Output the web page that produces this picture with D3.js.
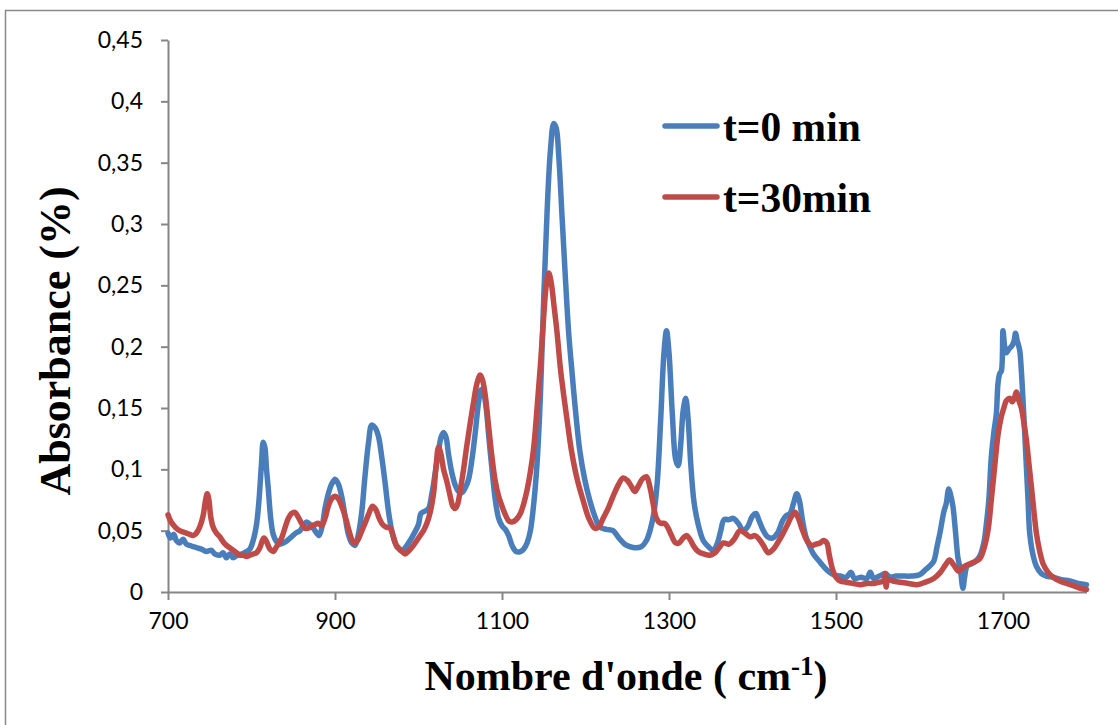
<!DOCTYPE html>
<html>
<head>
<meta charset="utf-8">
<script src="https://cdn.jsdelivr.net/npm/d3@7"></script>
<style>
    body { margin: 0; background: #fff; }
    svg { display: block; }
    .tick-text { font-family: Lato, 'Open Sans', sans-serif; font-size: 23px; fill: #000; }
    .axis-title { font-family: 'Liberation Serif', 'Times New Roman', serif; font-weight: bold; fill: #000; }
</style>
</head>
<body>
<div id="chart"></div>
<script>
// Spectra: [wave number (cm-1), absorbance]
const spectrumT0 = [
    [700, 0.048], [703, 0.044], [707, 0.047], [710, 0.042], [714, 0.040], [718, 0.043], [722, 0.039],
    [726, 0.038], [730, 0.037], [735, 0.036], [740, 0.035], [746, 0.033], [752, 0.034], [756, 0.031],
    [762, 0.030], [766, 0.032], [770, 0.028], [774, 0.031], [778, 0.028], [783, 0.030], [788, 0.031],
    [794, 0.033], [798, 0.035], [802, 0.042], [806, 0.055], [809, 0.075], [812, 0.105], [814, 0.122],
    [816, 0.118], [818, 0.100], [820, 0.085], [823, 0.060], [826, 0.047], [830, 0.041], [834, 0.039],
    [838, 0.040], [843, 0.042], [848, 0.045], [853, 0.048], [858, 0.050], [862, 0.054], [866, 0.057],
    [870, 0.055], [874, 0.052], [878, 0.048], [881, 0.046], [885, 0.055], [888, 0.068], [892, 0.080],
    [896, 0.088], [900, 0.092], [904, 0.088], [908, 0.078], [912, 0.062], [916, 0.047], [920, 0.040],
    [924, 0.038], [928, 0.047], [932, 0.065], [936, 0.095], [940, 0.121], [944, 0.136], [948, 0.134],
    [952, 0.127], [956, 0.110], [960, 0.089], [964, 0.066], [968, 0.050], [972, 0.040], [976, 0.036],
    [980, 0.033], [985, 0.037], [990, 0.042], [995, 0.048], [1000, 0.055], [1003, 0.064], [1008, 0.066],
    [1012, 0.068], [1016, 0.080], [1020, 0.097], [1024, 0.115], [1027, 0.126], [1030, 0.130], [1033, 0.126],
    [1036, 0.112], [1040, 0.097], [1044, 0.087], [1048, 0.082], [1052, 0.081], [1056, 0.085], [1060, 0.092],
    [1064, 0.108], [1068, 0.130], [1072, 0.155], [1075, 0.165], [1078, 0.162], [1081, 0.150], [1084, 0.128],
    [1088, 0.100], [1092, 0.075], [1096, 0.060], [1100, 0.054], [1104, 0.051], [1108, 0.046], [1112, 0.038],
    [1117, 0.033], [1122, 0.033], [1126, 0.035], [1130, 0.040], [1134, 0.050], [1138, 0.072], [1142, 0.105],
    [1146, 0.160], [1150, 0.240], [1154, 0.310], [1158, 0.360], [1162, 0.382], [1165, 0.378], [1168, 0.355],
    [1172, 0.305], [1176, 0.255], [1180, 0.210], [1184, 0.178], [1188, 0.148], [1193, 0.116], [1199, 0.092],
    [1205, 0.075], [1211, 0.062], [1217, 0.053], [1225, 0.051], [1233, 0.050], [1240, 0.044], [1247, 0.039],
    [1253, 0.037], [1260, 0.036], [1267, 0.037], [1273, 0.042], [1278, 0.052], [1282, 0.065], [1286, 0.090],
    [1290, 0.140], [1294, 0.195], [1297, 0.213], [1300, 0.195], [1304, 0.145], [1308, 0.108], [1311, 0.103],
    [1314, 0.120], [1317, 0.148], [1320, 0.158], [1323, 0.140], [1326, 0.105], [1330, 0.073], [1335, 0.055],
    [1341, 0.042], [1347, 0.037], [1353, 0.034], [1358, 0.040], [1362, 0.050], [1366, 0.059], [1372, 0.059],
    [1377, 0.060], [1383, 0.056], [1389, 0.050], [1394, 0.053], [1400, 0.062], [1404, 0.064], [1408, 0.058],
    [1413, 0.050], [1418, 0.045], [1424, 0.044], [1430, 0.048], [1436, 0.058], [1440, 0.062], [1445, 0.064],
    [1449, 0.072], [1453, 0.080], [1456, 0.075], [1460, 0.058], [1464, 0.045], [1468, 0.038], [1473, 0.031],
    [1480, 0.025], [1489, 0.018], [1497, 0.014], [1505, 0.013], [1512, 0.012], [1518, 0.016], [1522, 0.011],
    [1530, 0.012], [1537, 0.011], [1541, 0.016], [1545, 0.011], [1552, 0.013], [1559, 0.015], [1565, 0.012],
    [1572, 0.013], [1580, 0.013], [1590, 0.013], [1600, 0.014], [1607, 0.018], [1612, 0.021], [1617, 0.025],
    [1621, 0.037], [1625, 0.050], [1629, 0.065], [1632, 0.072], [1635, 0.084], [1637, 0.080], [1640, 0.070],
    [1643, 0.050], [1646, 0.028], [1649, 0.018], [1652, 0.003], [1654, 0.012], [1657, 0.021], [1662, 0.023],
    [1667, 0.025], [1672, 0.029], [1677, 0.040], [1680, 0.055], [1683, 0.075], [1686, 0.110], [1689, 0.130],
    [1692, 0.145], [1694, 0.170], [1696, 0.178], [1698, 0.180], [1700, 0.213], [1702, 0.200], [1704, 0.195],
    [1707, 0.198], [1710, 0.200], [1713, 0.204], [1715, 0.211], [1717, 0.205], [1720, 0.197], [1722, 0.180],
    [1724, 0.156], [1726, 0.130], [1728, 0.102], [1730, 0.075], [1732, 0.048], [1736, 0.030], [1740, 0.021],
    [1746, 0.015], [1752, 0.013], [1760, 0.012], [1770, 0.010], [1780, 0.009], [1790, 0.007], [1800, 0.006]
]

const spectrumT30 = [
    [700, 0.063], [703, 0.058], [706, 0.055], [710, 0.052], [714, 0.050], [718, 0.049], [722, 0.048],
    [726, 0.047], [730, 0.046], [734, 0.048], [738, 0.053], [742, 0.062], [745, 0.075], [747, 0.080],
    [749, 0.075], [751, 0.062], [754, 0.053], [758, 0.048], [762, 0.045], [766, 0.041], [770, 0.038],
    [774, 0.036], [778, 0.034], [782, 0.032], [786, 0.030], [790, 0.030], [794, 0.029], [798, 0.030],
    [802, 0.031], [806, 0.032], [810, 0.036], [813, 0.042], [815, 0.044], [818, 0.041], [822, 0.035],
    [826, 0.033], [830, 0.037], [836, 0.044], [840, 0.052], [844, 0.060], [848, 0.064], [852, 0.065],
    [856, 0.061], [860, 0.056], [864, 0.052], [868, 0.052], [872, 0.054], [876, 0.055], [880, 0.056],
    [884, 0.054], [888, 0.060], [892, 0.070], [896, 0.076], [900, 0.078], [904, 0.076], [908, 0.070],
    [912, 0.062], [916, 0.052], [920, 0.043], [923, 0.040], [927, 0.042], [931, 0.048], [936, 0.056],
    [940, 0.063], [945, 0.070], [949, 0.067], [953, 0.060], [957, 0.055], [961, 0.053], [966, 0.052],
    [970, 0.045], [974, 0.037], [979, 0.034], [984, 0.031], [989, 0.034], [994, 0.038], [998, 0.042],
    [1002, 0.046], [1006, 0.050], [1010, 0.056], [1014, 0.065], [1018, 0.080], [1021, 0.102], [1024, 0.118],
    [1027, 0.112], [1030, 0.100], [1034, 0.090], [1038, 0.078], [1041, 0.070], [1044, 0.068], [1047, 0.072],
    [1050, 0.083], [1054, 0.100], [1058, 0.120], [1062, 0.138], [1066, 0.155], [1070, 0.170], [1074, 0.177],
    [1077, 0.172], [1080, 0.160], [1084, 0.135], [1088, 0.110], [1092, 0.090], [1096, 0.078], [1100, 0.070],
    [1104, 0.063], [1108, 0.058], [1112, 0.057], [1117, 0.059], [1122, 0.064], [1126, 0.072], [1130, 0.083],
    [1134, 0.098], [1138, 0.118], [1142, 0.150], [1146, 0.185], [1150, 0.225], [1153, 0.250], [1156, 0.260],
    [1159, 0.252], [1162, 0.235], [1166, 0.211], [1170, 0.182], [1174, 0.160], [1178, 0.140], [1183, 0.116],
    [1190, 0.092], [1197, 0.075], [1204, 0.060], [1211, 0.052], [1216, 0.053], [1221, 0.060], [1227, 0.068],
    [1233, 0.078], [1239, 0.087], [1245, 0.093], [1250, 0.091], [1255, 0.086], [1259, 0.082], [1263, 0.086],
    [1268, 0.092], [1273, 0.094], [1277, 0.086], [1281, 0.072], [1285, 0.060], [1290, 0.056], [1295, 0.056],
    [1299, 0.052], [1303, 0.046], [1308, 0.040], [1312, 0.040], [1317, 0.044], [1321, 0.046], [1325, 0.043],
    [1330, 0.037], [1335, 0.033], [1342, 0.031], [1349, 0.030], [1355, 0.032], [1360, 0.036], [1365, 0.040],
    [1372, 0.039], [1378, 0.043], [1385, 0.050], [1391, 0.048], [1397, 0.045], [1403, 0.046], [1408, 0.043],
    [1413, 0.038], [1419, 0.032], [1425, 0.035], [1430, 0.040], [1436, 0.047], [1442, 0.055], [1447, 0.062],
    [1451, 0.065], [1455, 0.060], [1459, 0.052], [1463, 0.045], [1467, 0.040], [1471, 0.038], [1476, 0.039],
    [1481, 0.040], [1485, 0.042], [1489, 0.040], [1492, 0.030], [1496, 0.018], [1500, 0.012], [1505, 0.009],
    [1512, 0.008], [1520, 0.007], [1529, 0.006], [1537, 0.007], [1545, 0.007], [1552, 0.008], [1557, 0.009],
    [1559, 0.015], [1560, 0.004], [1562, 0.010], [1568, 0.009], [1577, 0.008], [1587, 0.007], [1597, 0.006],
    [1607, 0.008], [1617, 0.011], [1625, 0.016], [1631, 0.022], [1636, 0.026], [1641, 0.022], [1647, 0.017],
    [1652, 0.020], [1657, 0.022], [1664, 0.024], [1672, 0.027], [1677, 0.035], [1682, 0.050], [1686, 0.075],
    [1690, 0.102], [1694, 0.128], [1698, 0.143], [1701, 0.150], [1704, 0.156], [1708, 0.158], [1711, 0.155],
    [1714, 0.159], [1716, 0.163], [1719, 0.156], [1722, 0.150], [1725, 0.138], [1728, 0.124], [1731, 0.105],
    [1734, 0.086], [1737, 0.066], [1740, 0.048], [1744, 0.033], [1748, 0.023], [1754, 0.016], [1760, 0.012],
    [1768, 0.009], [1776, 0.007], [1785, 0.005], [1793, 0.003], [1800, 0.002]
]

const seriesNames = ['t=0 min', 't=30min']
const xTicks = [700, 900, 1100, 1300, 1500, 1700]
const yTicks = [0, 0.05, 0.1, 0.15, 0.2, 0.25, 0.3, 0.35, 0.4, 0.45]

const colours = ['#4a7ebb', '#be4b48']
const width = 1118
const height = 725

const svg = d3.select('#chart')
    .append('svg')
    .attr('width', width)
    .attr('height', height)

// Outer chart frame, runs off the right and bottom of the picture
svg.append('rect')
    .attr('x', 5.5)
    .attr('y', 10.5)
    .attr('width', 1130)
    .attr('height', 730)
    .attr('fill', 'none')
    .attr('stroke', '#888')
    .attr('stroke-width', 1.5)

const x = d3.scaleLinear().domain([700, 1800]).range([168, 1086.5])
const y = d3.scaleLinear().domain([0, 0.45]).range([592, 40])

const commaFormat = d => String(d).replace('.', ',')

// Axes
const xAxis = svg.append('g')
    .attr('transform', `translate(0,${y(0)})`)
    .call(d3.axisBottom(x).tickValues(xTicks).tickFormat(d => String(d)).tickSize(8).tickPadding(13).tickSizeOuter(0))
const yAxis = svg.append('g')
    .attr('transform', `translate(${x(700)},0)`)
    .call(d3.axisLeft(y).tickValues(yTicks).tickFormat(commaFormat).tickSize(7).tickPadding(18).tickSizeOuter(0))

;[xAxis, yAxis].forEach(a => {
    a.select('.domain').attr('stroke', '#868686').attr('stroke-width', 2)
    a.selectAll('.tick line').attr('stroke', '#868686').attr('stroke-width', 2)
    a.selectAll('.tick text').attr('class', 'tick-text').attr('font-family', null).attr('font-size', null)
})

// Spectra
const line = d3.line()
    .x(d => x(d[0]))
    .y(d => y(d[1]))
    .curve(d3.curveCatmullRom.alpha(0.5))

const plotArea = svg.append('g')
plotArea.selectAll('path')
    .data([spectrumT0, spectrumT30])
    .enter()
    .append('path')
    .attr('d', line)
    .attr('fill', 'none')
    .attr('stroke', (d, i) => colours[i])
    .attr('stroke-width', 5.5)
    .attr('stroke-linejoin', 'round')
    .attr('stroke-linecap', 'round')

// Legend
const legend = svg.append('g')
const legendRows = legend.selectAll('g')
    .data(seriesNames)
    .enter()
    .append('g')
    .attr('transform', (d, i) => `translate(665,${126 + i * 71})`)
legendRows.append('line')
    .attr('x1', 0)
    .attr('x2', 52)
    .attr('stroke', (d, i) => colours[i])
    .attr('stroke-width', 5.5)
    .attr('stroke-linecap', 'round')
legendRows.append('text')
    .attr('class', 'axis-title')
    .attr('x', 58)
    .attr('y', 15)
    .attr('font-size', 41.5)
    .text(d => d)

// Axis titles
const xTitle = svg.append('text')
    .attr('class', 'axis-title')
    .attr('x', 626)
    .attr('y', 690)
    .attr('text-anchor', 'middle')
    .attr('font-size', 42)
xTitle.append('tspan').text('Nombre d\'onde ( cm')
xTitle.append('tspan').attr('font-size', 27).attr('dy', -15).text('-1')
xTitle.append('tspan').attr('dy', 15).text(')')

svg.append('text')
    .attr('class', 'axis-title')
    .attr('transform', 'translate(70,341) rotate(-90)')
    .attr('text-anchor', 'middle')
    .attr('font-size', 44)
    .text('Absorbance (%)')
</script>
</body>
</html>
